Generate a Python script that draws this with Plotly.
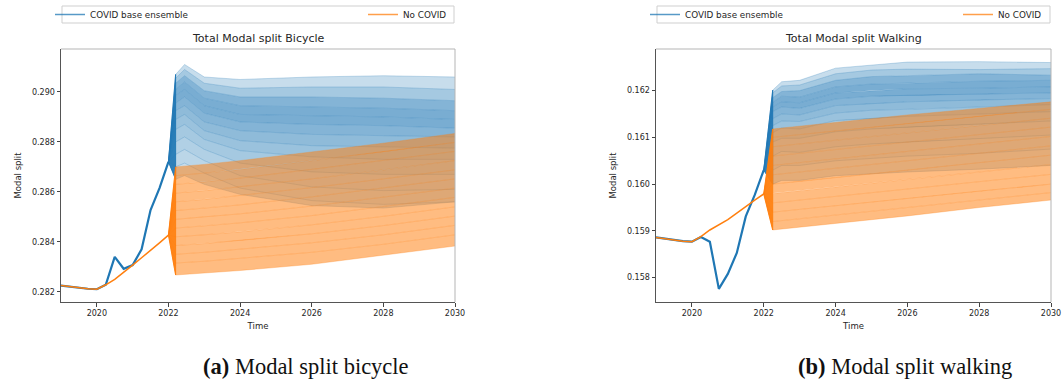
import plotly.graph_objects as go

# ---------------- data ----------------
YEARS_PRE = [2019.0, 2019.25, 2019.5, 2019.75, 2020.0, 2020.25, 2020.5, 2020.75,
             2021.0, 2021.25, 2021.5, 2021.75, 2022.0]

BIKE_COVID_PRE = [0.28225, 0.28220, 0.28215, 0.28212, 0.28210, 0.28228, 0.28340, 0.28292,
                  0.28307, 0.28370, 0.28527, 0.28615, 0.28720]
BIKE_NOCOVID_PRE = [0.28225, 0.28220, 0.28215, 0.28212, 0.28210, 0.28228, 0.28250, 0.28280,
                    0.28307, 0.28336, 0.28365, 0.28396, 0.28427]
WALK_COVID_PRE = [0.15886, 0.15883, 0.15880, 0.15878, 0.15877, 0.15887, 0.15877, 0.15776,
                  0.15808, 0.15853, 0.15931, 0.15977, 0.16030]
WALK_NOCOVID_PRE = [0.15886, 0.15883, 0.15880, 0.15878, 0.15877, 0.15888, 0.15902, 0.15913,
                    0.15924, 0.15938, 0.15953, 0.15966, 0.15979]

BIKE_COVID_T = [2022.2, 2022.45, 2023, 2024, 2026, 2028, 2030]
BIKE_COVID_MEMBERS = [
    [0.29070, 0.29110, 0.29060, 0.29050, 0.29060, 0.29065, 0.29060],
    [0.29055, 0.29090, 0.29035, 0.29015, 0.29020, 0.29020, 0.29010],
    [0.29035, 0.29065, 0.29005, 0.28980, 0.28980, 0.28975, 0.28965],
    [0.29010, 0.29040, 0.28975, 0.28945, 0.28940, 0.28935, 0.28925],
    [0.28985, 0.29010, 0.28945, 0.28910, 0.28905, 0.28900, 0.28890],
    [0.28955, 0.28980, 0.28915, 0.28880, 0.28870, 0.28865, 0.28855],
    [0.28925, 0.28945, 0.28880, 0.28845, 0.28830, 0.28825, 0.28820],
    [0.28890, 0.28910, 0.28845, 0.28805, 0.28785, 0.28780, 0.28775],
    [0.28850, 0.28870, 0.28810, 0.28765, 0.28740, 0.28730, 0.28730],
    [0.28800, 0.28820, 0.28770, 0.28715, 0.28680, 0.28670, 0.28670],
    [0.28750, 0.28770, 0.28725, 0.28665, 0.28620, 0.28605, 0.28610],
    [0.28700, 0.28715, 0.28675, 0.28615, 0.28565, 0.28550, 0.28560],
    [0.28650, 0.28665, 0.28630, 0.28590, 0.28545, 0.28535, 0.28560],
]

BIKE_NOCOVID_T = [2022.2, 2023, 2024, 2026, 2028, 2030]
BIKE_NOCOVID_MEMBERS = [
    [0.28700, 0.28710, 0.28725, 0.28760, 0.28795, 0.28834],
    [0.28665, 0.28675, 0.28690, 0.28725, 0.28760, 0.28798],
    [0.28630, 0.28640, 0.28655, 0.28690, 0.28725, 0.28762],
    [0.28595, 0.28605, 0.28620, 0.28652, 0.28688, 0.28725],
    [0.28560, 0.28570, 0.28585, 0.28617, 0.28652, 0.28688],
    [0.28525, 0.28535, 0.28548, 0.28580, 0.28615, 0.28652],
    [0.28490, 0.28500, 0.28512, 0.28543, 0.28578, 0.28615],
    [0.28455, 0.28464, 0.28476, 0.28505, 0.28540, 0.28578],
    [0.28420, 0.28428, 0.28440, 0.28468, 0.28502, 0.28540],
    [0.28385, 0.28393, 0.28405, 0.28432, 0.28465, 0.28503],
    [0.28350, 0.28358, 0.28370, 0.28396, 0.28428, 0.28466],
    [0.28315, 0.28322, 0.28333, 0.28358, 0.28390, 0.28428],
    [0.28267, 0.28275, 0.28285, 0.28310, 0.28345, 0.28383],
]

WALK_COVID_T = [2022.25, 2022.5, 2023, 2024, 2025, 2026, 2028, 2030]
WALK_COVID_MEMBERS = [
    [0.16201, 0.16219, 0.16222, 0.16248, 0.16255, 0.16261, 0.16262, 0.16260],
    [0.16195, 0.16210, 0.16212, 0.16236, 0.16244, 0.16246, 0.16245, 0.16247],
    [0.16185, 0.16198, 0.16200, 0.16222, 0.16230, 0.16232, 0.16236, 0.16233],
    [0.16175, 0.16188, 0.16186, 0.16208, 0.16214, 0.16216, 0.16220, 0.16222],
    [0.16165, 0.16176, 0.16174, 0.16195, 0.16200, 0.16204, 0.16205, 0.16208],
    [0.16155, 0.16165, 0.16162, 0.16182, 0.16188, 0.16190, 0.16192, 0.16195],
    [0.16140, 0.16150, 0.16148, 0.16168, 0.16172, 0.16176, 0.16180, 0.16183],
    [0.16125, 0.16135, 0.16134, 0.16152, 0.16158, 0.16160, 0.16165, 0.16170],
    [0.16110, 0.16120, 0.16118, 0.16136, 0.16140, 0.16145, 0.16150, 0.16155],
    [0.16090, 0.16098, 0.16098, 0.16112, 0.16118, 0.16122, 0.16128, 0.16135],
    [0.16060, 0.16070, 0.16068, 0.16080, 0.16086, 0.16090, 0.16098, 0.16105],
    [0.16030, 0.16040, 0.16040, 0.16050, 0.16055, 0.16060, 0.16066, 0.16075],
    [0.16000, 0.16008, 0.16008, 0.16018, 0.16022, 0.16026, 0.16032, 0.16040],
]

WALK_NOCOVID_T = [2022.25, 2023, 2024, 2026, 2028, 2030]
WALK_NOCOVID_MEMBERS = [
    [0.16118, 0.16124, 0.16132, 0.16148, 0.16162, 0.16176],
    [0.16100, 0.16106, 0.16114, 0.16130, 0.16145, 0.16160],
    [0.16080, 0.16086, 0.16094, 0.16110, 0.16126, 0.16141],
    [0.16060, 0.16066, 0.16074, 0.16090, 0.16106, 0.16122],
    [0.16040, 0.16046, 0.16054, 0.16070, 0.16086, 0.16102],
    [0.16020, 0.16026, 0.16034, 0.16050, 0.16066, 0.16082],
    [0.16000, 0.16006, 0.16014, 0.16030, 0.16046, 0.16062],
    [0.15980, 0.15986, 0.15994, 0.16010, 0.16026, 0.16042],
    [0.15960, 0.15966, 0.15974, 0.15990, 0.16005, 0.16021],
    [0.15940, 0.15946, 0.15954, 0.15970, 0.15985, 0.16000],
    [0.15920, 0.15926, 0.15934, 0.15950, 0.15966, 0.15982],
    [0.15902, 0.15908, 0.15916, 0.15932, 0.15950, 0.15966],
]

X_TICKS = [2020, 2022, 2024, 2026, 2028, 2030]
BIKE_Y_TICKS = [0.282, 0.284, 0.286, 0.288, 0.290]
WALK_Y_TICKS = [0.158, 0.159, 0.160, 0.161, 0.162]

TITLES = ["Total Modal split Bicycle", "Total Modal split Walking"]
CAPTIONS = [("(a)", "Modal split bicycle"), ("(b)", "Modal split walking")]
LEGEND_NAMES = ["COVID base ensemble", "No COVID"]

# ---------------- styling ----------------
W, H = 1063, 383
BLUE = "31,119,180"
ORANGE = "255,127,14"
TXT = "#262626"
BLUE_BAND_ALPHA = [0.25, 0.4, 0.55, 0.6, 0.6, 0.55, 0.5, 0.45, 0.4, 0.35, 0.3, 0.25]
ORANGE_BAND_ALPHA = [0.52] * 12

fig = go.Figure()


def px(x):
    return x / W


def py(y):
    return 1 - y / H


def add_ensemble(xa, ya, start_x, start_y, times, members, rgb, alphas, line_alpha):
    xs = [start_x] + times
    ys_list = [[start_y] + m for m in members]
    for k in range(len(ys_list) - 1):
        a, b = ys_list[k], ys_list[k + 1]
        fig.add_trace(go.Scatter(x=xs + xs[::-1], y=a + b[::-1], fill="toself",
                                 fillcolor=f"rgba({rgb},{alphas[k]})", line=dict(width=0),
                                 mode="lines", hoverinfo="skip", showlegend=False,
                                 xaxis=xa, yaxis=ya))
    # the dense fan where all members leave the common start
    fig.add_trace(go.Scatter(x=xs[:2] + [xs[1], xs[0]],
                             y=[start_y, members[0][0], members[-1][0], start_y],
                             fill="toself", fillcolor=f"rgba({rgb},0.9)",
                             line=dict(color=f"rgba({rgb},0.9)", width=1),
                             mode="lines", hoverinfo="skip", showlegend=False,
                             xaxis=xa, yaxis=ya))
    for ys in ys_list:
        fig.add_trace(go.Scatter(x=xs, y=ys, mode="lines",
                                 line=dict(color=f"rgba({rgb},{line_alpha})", width=0.7),
                                 hoverinfo="skip", showlegend=False, xaxis=xa, yaxis=ya))


panels = [
    dict(xa="x", ya="y", cov_pre=BIKE_COVID_PRE, no_pre=BIKE_NOCOVID_PRE,
         cov_t=BIKE_COVID_T, cov_m=BIKE_COVID_MEMBERS,
         no_t=BIKE_NOCOVID_T, no_m=BIKE_NOCOVID_MEMBERS, legends=("legend", "legend3")),
    dict(xa="x2", ya="y2", cov_pre=WALK_COVID_PRE, no_pre=WALK_NOCOVID_PRE,
         cov_t=WALK_COVID_T, cov_m=WALK_COVID_MEMBERS,
         no_t=WALK_NOCOVID_T, no_m=WALK_NOCOVID_MEMBERS, legends=("legend2", "legend4")),
]

for p in panels:
    fig.add_trace(go.Scatter(x=YEARS_PRE, y=p["cov_pre"], mode="lines",
                             line=dict(color=f"rgb({BLUE})", width=2.2),
                             hoverinfo="skip", showlegend=False, xaxis=p["xa"], yaxis=p["ya"]))
    add_ensemble(p["xa"], p["ya"], YEARS_PRE[-1], p["cov_pre"][-1], p["cov_t"], p["cov_m"],
                 BLUE, BLUE_BAND_ALPHA, 0.35)
    add_ensemble(p["xa"], p["ya"], YEARS_PRE[-1], p["no_pre"][-1], p["no_t"], p["no_m"],
                 ORANGE, ORANGE_BAND_ALPHA, 0.4)
    fig.add_trace(go.Scatter(x=YEARS_PRE, y=p["no_pre"], mode="lines",
                             line=dict(color=f"rgb({ORANGE})", width=1.5),
                             hoverinfo="skip", showlegend=False, xaxis=p["xa"], yaxis=p["ya"]))
    for name, rgb, lg in zip(LEGEND_NAMES, [BLUE, ORANGE], p["legends"]):
        fig.add_trace(go.Scatter(x=[None], y=[None], mode="lines", name=name,
                                 line=dict(color=f"rgba({rgb},0.75)", width=1.5),
                                 legend=lg, xaxis=p["xa"], yaxis=p["ya"]))

ydom = [py(302), py(49)]
xdom_a = [px(61), px(455)]
xdom_b = [px(656), px(1051)]

common_x = dict(range=[2019, 2030], tickvals=X_TICKS, ticks="outside", ticklen=3.5,
                tickcolor="#444", tickwidth=1, showline=True, linecolor="#555", linewidth=1,
                showgrid=False, zeroline=False, tickfont=dict(size=8, color=TXT),
                title=dict(text="Time", font=dict(size=8.5, color=TXT), standoff=5))
common_y = dict(ticks="outside", ticklen=3.5, tickcolor="#444", tickwidth=1, showline=True,
                linecolor="#555", linewidth=1, showgrid=False, zeroline=False,
                tickformat=".3f", tickfont=dict(size=8, color=TXT),
                title=dict(text="Modal split", font=dict(size=8.5, color=TXT), standoff=9))

legend_common = dict(orientation="h", xanchor="left", yanchor="top", y=1.0,
                     xref="container", yref="container",
                     borderwidth=0, bgcolor="rgba(0,0,0,0)",
                     font=dict(size=8.8, color=TXT, family="DejaVu Sans"),
                     itemwidth=30, tracegroupgap=0, itemclick=False, itemdoubleclick=False)

fig.update_layout(
    width=W, height=H, margin=dict(l=0, r=0, t=0, b=0, autoexpand=False),
    paper_bgcolor="white", plot_bgcolor="white",
    font=dict(family="DejaVu Sans", color=TXT),
    xaxis=dict(domain=xdom_a, anchor="y", **common_x),
    yaxis=dict(domain=ydom, anchor="x", range=[0.28159, 0.29172], tickvals=BIKE_Y_TICKS, **common_y),
    xaxis2=dict(domain=xdom_b, anchor="y2", **common_x),
    yaxis2=dict(domain=ydom, anchor="x2", range=[0.15748, 0.16289], tickvals=WALK_Y_TICKS, **common_y),
    legend=dict(x=px(50), **legend_common),
    legend3=dict(x=px(363), **legend_common),
    legend2=dict(x=px(645), **legend_common),
    legend4=dict(x=px(958), **legend_common),
    showlegend=True,
)

for x0, x1 in [(62, 454), (657, 1050)]:
    fig.add_shape(type="rect", xref="paper", yref="paper", x0=px(x0), x1=px(x1), y0=py(23), y1=py(6),
                  line=dict(color="#cfcfcf", width=1), fillcolor="rgba(0,0,0,0)", layer="below")

for xa, ya in [("x", "y"), ("x2", "y2")]:
    fig.add_shape(type="line", xref=f"{xa} domain", yref=f"{ya} domain", x0=0, x1=1, y0=1, y1=1,
                  line=dict(color="#b5b5b5", width=1))
    fig.add_shape(type="line", xref=f"{xa} domain", yref=f"{ya} domain", x0=1, x1=1, y0=0, y1=1,
                  line=dict(color="#b5b5b5", width=1))

for dom, title in zip([xdom_a, xdom_b], TITLES):
    fig.add_annotation(text=title, x=(dom[0] + dom[1]) / 2, y=py(39), xref="paper", yref="paper",
                       showarrow=False, font=dict(size=11, color=TXT), xanchor="center", yanchor="middle")

for cx, (lab, txt) in zip([306, 905], CAPTIONS):
    fig.add_annotation(text=f"<b>{lab}</b> {txt}", x=px(cx), y=py(366), xref="paper", yref="paper",
                       showarrow=False, font=dict(size=22.5, color="#111", family="Liberation Serif"),
                       xanchor="center", yanchor="middle")

fig.write_html("out.html", config={"displayModeBar": False},
               post_script="document.body.style.margin='0px';")
